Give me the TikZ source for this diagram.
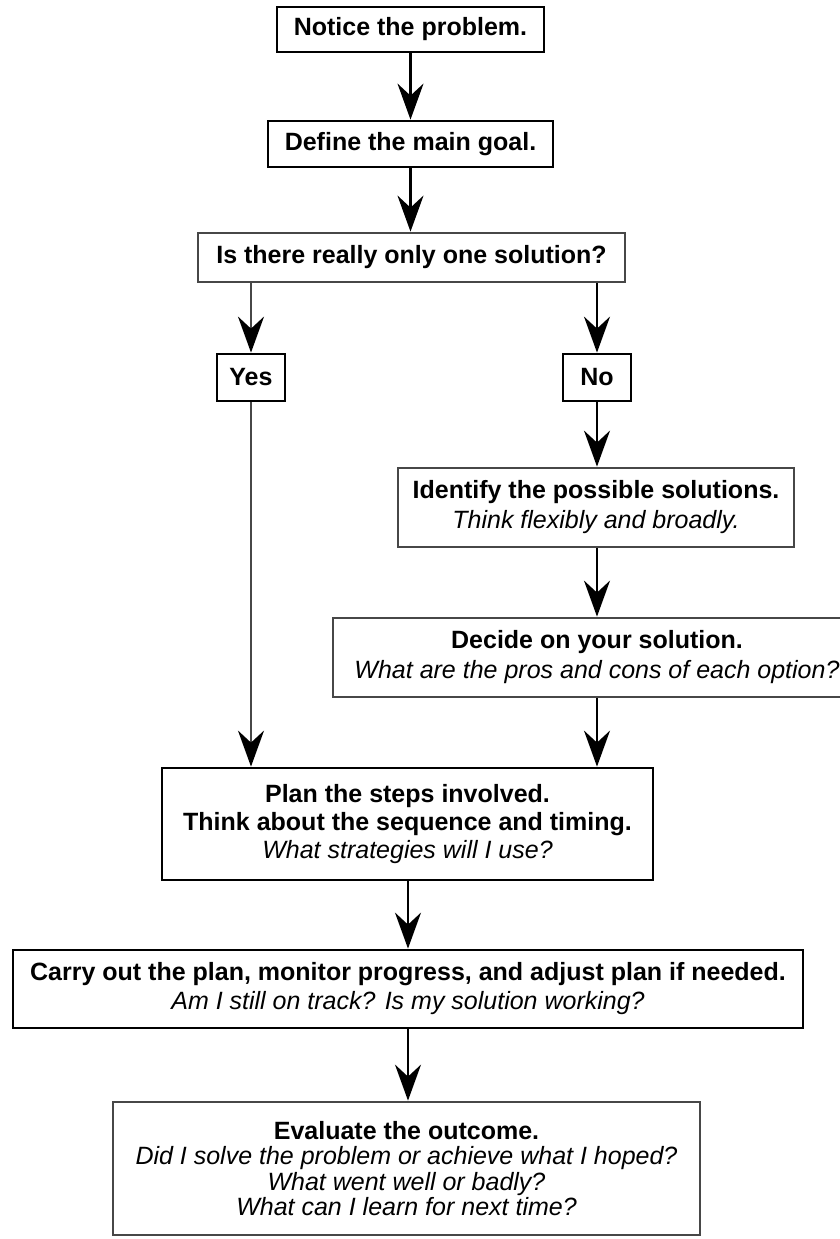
\documentclass[tikz,border=0pt]{standalone}
\usepackage{fontspec}
\setmainfont{Liberation Sans}
\usetikzlibrary{arrows.meta}
\begin{document}
\begin{tikzpicture}[x=0.5pt,y=-0.5pt,
  box/.style={draw=black, line width=1.4pt, fill=white, align=center, inner sep=0pt,
    font=\fontsize{12.5}{14}\selectfont},
  gbox/.style={box, draw=black!72},
  link/.style={draw=black, line width=1.1pt,
    -{Stealth[length=18pt,width=13pt,inset=6pt,color=black]}},
  glink/.style={link, draw=black!72},
]
\useasboundingbox (0,0) rectangle (840,1239);
\clip (0,0) rectangle (840,1239);

% steps of the procedure
\node[box, minimum width=133.5pt, minimum height=22.5pt] (notice) at (410.5,29.5)
  {\textbf{Notice the problem.}};
\node[box, minimum width=142.5pt, minimum height=23pt] (goal) at (410.5,144)
  {\textbf{Define the main goal.}};
\node[gbox, minimum width=213.5pt, minimum height=24.5pt] (q) at (411.5,257.5)
  {\textbf{Is there really only one solution?}};
\node[box, minimum width=34pt, minimum height=23.5pt] (yes) at (251,377.5)
  {\textbf{Yes}};
\node[box, minimum width=34pt, minimum height=23.5pt] (no) at (597,377.5)
  {\textbf{No}};
\node[gbox, minimum width=198pt, minimum height=39.5pt, font=\fontsize{12.5}{15}\selectfont]
  (ident) at (596,507.5)
  {\textbf{Identify the possible solutions.}\\\textit{Think flexibly and broadly.}};
\node[gbox, minimum width=264pt, minimum height=39.5pt, font=\fontsize{12.5}{15}\selectfont]
  (decide) at (597,657.5)
  {\textbf{Decide on your solution.}\\\textit{What are the pros and cons of each option?}};
\node[box, minimum width=245.5pt, minimum height=56pt, font=\fontsize{12.5}{14}\selectfont]
  (plan) at (407.5,824)
  {\textbf{Plan the steps involved.}\\\textbf{Think about the sequence and timing.}\\\textit{What strategies will I use?}};
\node[box, minimum width=395pt, minimum height=39pt, font=\fontsize{12.5}{14.5}\selectfont]
  (carry) at (408,989)
  {\textbf{Carry out the plan, monitor progress, and adjust plan if needed.}\\\textit{Am I still on track? Is my solution working?}};
\node[gbox, minimum width=293.5pt, minimum height=66.5pt, font=\fontsize{12.5}{12.8}\selectfont]
  (eval) at (406.5,1168.5)
  {\textbf{Evaluate the outcome.}\\\textit{Did I solve the problem or achieve what I hoped?}\\\textit{What went well or badly?}\\\textit{What can I learn for next time?}};

% connectors, all vertical
\draw[link] (notice.south) -- (notice.south |- goal.north);
\draw[link] (goal.south) -- (goal.south |- q.north);
\draw[glink] (yes.north |- q.south) -- (yes.north);
\draw[link] (no.north |- q.south) -- (no.north);
\draw[link] (no.south) -- (no.south |- ident.north);
\draw[link] (no.south |- ident.south) -- (no.south |- decide.north);
\draw[glink] (yes.south) -- (yes.south |- plan.north);
\draw[link] (decide.south) -- (decide.south |- plan.north);
\draw[link] (carry.north |- plan.south) -- (carry.north);
\draw[link] (carry.south) -- (carry.south |- eval.north);
\end{tikzpicture}
\end{document}
